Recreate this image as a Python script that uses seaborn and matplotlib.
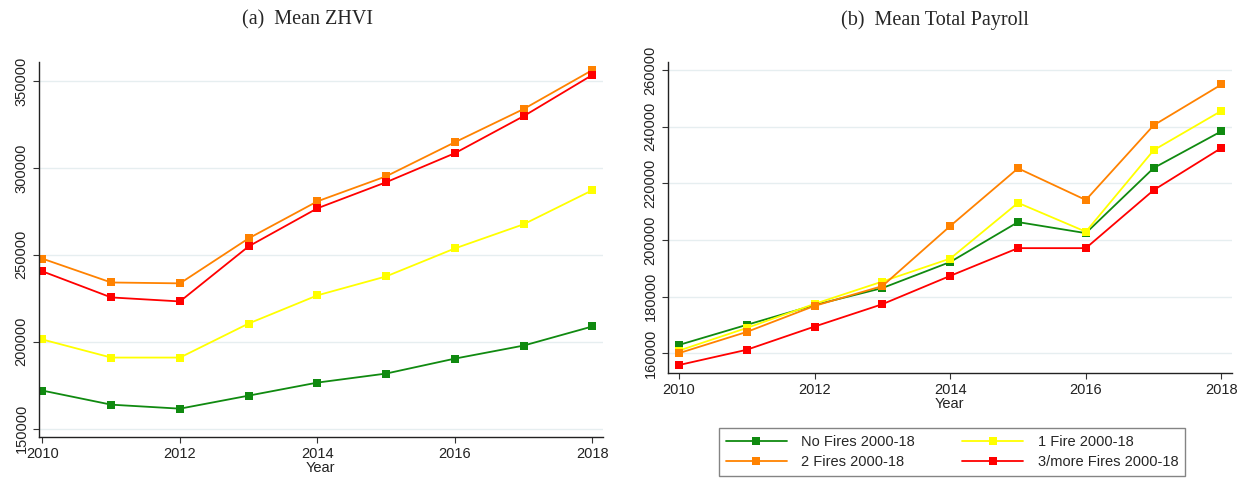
import pandas as pd
import matplotlib
matplotlib.use("Agg")
import matplotlib.pyplot as plt
import seaborn as sns

# Data
years = [2010, 2011, 2012, 2013, 2014, 2015, 2016, 2017, 2018]
groups = ["No Fires 2000-18", "1 Fire 2000-18", "2 Fires 2000-18", "3/more Fires 2000-18"]

zhvi_none = [171900, 163800, 161500, 169000, 176500, 181700, 190300, 197800, 208800]
zhvi_one = [201300, 190900, 190900, 210500, 226700, 237600, 253700, 267600, 287200]
zhvi_two = [247800, 234100, 233600, 259500, 280800, 295200, 314800, 333900, 356300]
zhvi_three = [240500, 225500, 223200, 254900, 276800, 291800, 308500, 329800, 353500]

pay_none = [162900, 170000, 177000, 183000, 192200, 206300, 202400, 225400, 238400]
pay_one = [160900, 168900, 177400, 185300, 193400, 213100, 202900, 231700, 245600]
pay_two = [160000, 167500, 176700, 183700, 204900, 225300, 214100, 240500, 254900]
pay_three = [155800, 161200, 169400, 177300, 187300, 197100, 197100, 217600, 232500]

palette = {
    "No Fires 2000-18": "#108a10",
    "1 Fire 2000-18": "#ffff00",
    "2 Fires 2000-18": "#ff8200",
    "3/more Fires 2000-18": "#ff0000",
}


def long_df(series):
    rows = []
    for g, vals in zip(groups, series):
        for y, v in zip(years, vals):
            rows.append({"Year": y, "value": v, "group": g})
    return pd.DataFrame(rows)


zhvi = long_df([zhvi_none, zhvi_one, zhvi_two, zhvi_three])
payroll = long_df([pay_none, pay_one, pay_two, pay_three])

sns.set_style("ticks")
plt.rcParams["font.family"] = ["Liberation Sans", "DejaVu Sans"]

fig = plt.figure(figsize=(12.47, 4.79), dpi=100)
ax1 = fig.add_axes([0.0313, 0.0877, 0.452, 0.783])
ax2 = fig.add_axes([0.5357, 0.2213, 0.452, 0.649])

for ax, df, ylim, yticks, xlim in [
    (ax1, zhvi, (145200, 361000), [150000, 200000, 250000, 300000, 350000], (2009.95, 2018.15)),
    (ax2, payroll, (153000, 262800), [160000, 180000, 200000, 220000, 240000, 260000], (2009.84, 2018.15)),
]:
    sns.lineplot(data=df, x="Year", y="value", hue="group", hue_order=groups,
                 palette=palette, marker="s", markersize=6, markeredgewidth=0,
                 linewidth=1.3, ax=ax, legend=(ax is ax2))
    ax.set_xlim(*xlim)
    ax.set_ylim(*ylim)
    ax.set_xticks([2010, 2012, 2014, 2016, 2018])
    ax.set_yticks(yticks)
    ax.set_yticklabels([str(t) for t in yticks], rotation=90, va="center")
    ax.yaxis.grid(True, color="#e6eef0", linewidth=1)
    ax.set_axisbelow(True)
    ax.tick_params(labelsize=10.5, length=4, color="#333333", labelcolor="#222222")
    ax.set_xlabel("Year", fontsize=10.5, labelpad=0, color="#222222")
    ax.set_ylabel("")
    for s in ["top", "right"]:
        ax.spines[s].set_visible(False)
    for s in ["left", "bottom"]:
        ax.spines[s].set_color("#222222")
        ax.spines[s].set_linewidth(1)

handles, labels = ax2.get_legend_handles_labels()
ax2.get_legend().remove()
order = [0, 2, 1, 3]
leg = fig.legend([handles[i] for i in order], [labels[i] for i in order],
                 ncol=2, loc="center", bbox_to_anchor=(952 / 1247, 1 - 452 / 479),
                 fontsize=10.5, frameon=True, fancybox=False, edgecolor="#666666",
                 handlelength=4.2, columnspacing=3.2, borderpad=0.45,
                 labelspacing=0.45, handletextpad=1.0)
leg.get_frame().set_linewidth(1)

serif = ["Liberation Serif", "DejaVu Serif"]
fig.text(308 / 1247, 1 - 20 / 479, "(a)  Mean ZHVI", ha="center", va="center",
         fontsize=14.5, family=serif)
fig.text(935 / 1247, 1 - 20 / 479, "(b)  Mean Total Payroll", ha="center", va="center",
         fontsize=14.5, family=serif)

fig.savefig("out.png", dpi=100)
